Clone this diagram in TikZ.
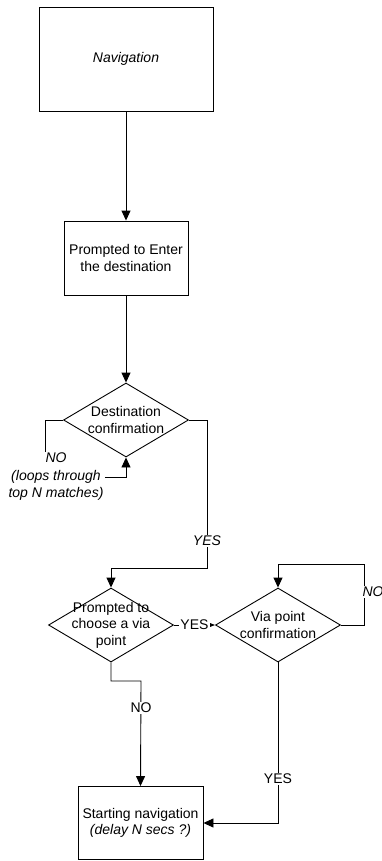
\documentclass[tikz,border=0pt]{standalone}
\usepackage{fontspec}
\setmainfont{Liberation Sans}
\usetikzlibrary{shapes.geometric}
\usetikzlibrary{arrows.meta}
\tikzset{
  fc_txt/.style = {align=center, inner sep=1pt,
    font=\fontsize{14}{16.5}\selectfont},
  fc_box/.style = {fc_txt, rectangle, draw=black,
    minimum width=124pt, minimum height=74pt},% boite
  fc_dec/.style = {diamond, draw=black, inner sep=0pt,
    minimum width=125pt, minimum height=74pt},% losange, texte a part
  fc_lbl/.style = {fc_txt, fill=white}% etiquette posee sur une fleche
}

\begin{document}
\begin{tikzpicture}[x=1pt, y=-1pt, line width=0.9pt,
  >={Triangle[length=10pt,width=9pt]}]
\useasboundingbox (0,0) rectangle (382,861);
% boites et losanges
\node [fc_box, minimum width=174pt, minimum height=104pt] (nav) at (126,59) {\itshape Navigation};
\node [fc_box] (enter) at (126,258) {Prompted to Enter\\the destination};
\node [fc_dec] (dconf) at (126,420) {};
\node [fc_txt] (dconf_t) at (dconf) {Destination\\confirmation};
\node [fc_dec] (via) at (111,625) {};
\node [fc_txt] (via_t) at (via) {Prompted to\\choose a via\\point};
\node [fc_dec] (vconf) at (278,625) {};
\node [fc_txt] (vconf_t) at (vconf) {Via point\\confirmation};
\node [fc_box, minimum width=125pt, minimum height=73pt] (start) at (140.5,823)
  {Starting navigation\\\itshape(delay N secs ?)};
\node [fc_txt, font=\fontsize{14}{17.5}\selectfont\itshape] (noloop) at (56,477)
  {NO\\(loops through\\top N matches)};
% points de passage
\coordinate (j1) at (207,568);
\coordinate (j2) at (141,681);
\coordinate (j3) at (364,625);
\coordinate (j4) at (364,564);
% fleches
\draw[->] (nav) -- (enter);
\draw[->] (enter) -- (dconf);
\draw (dconf.west) -| ([xshift=-11pt]noloop.north);
\draw[->] (noloop.east) -| (dconf.south);
\draw[->] (dconf.east) -| (j1) -| (via.north);
\draw[-{Triangle[length=8pt,width=6pt]}] (via.east) -- (vconf.west);
\draw[->] (vconf.east) -- (j3) -- (j4) -| (vconf.north);
\draw[->] (via.south) |- (j2) -- (start.north);
\draw[->] (vconf.south) |- (start.east);
% etiquettes
\node [fc_lbl, font=\fontsize{14}{16.5}\selectfont\itshape] (yes1) at (207,541) {YES};
\node [fc_lbl] (yes2) at (194.5,625) {YES};
\node [fc_lbl, font=\fontsize{14}{16.5}\selectfont\itshape] (no3) at (373,592) {NO};
\node [fc_lbl] (no2) at (141,708) {NO};
\node [fc_lbl] (yes3) at (278,779) {YES};
\end{tikzpicture}
\end{document}
